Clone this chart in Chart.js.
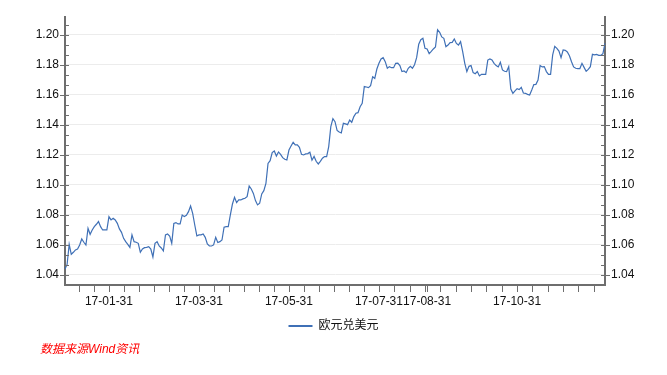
<!DOCTYPE html>
<html>
<head>
<meta charset="utf-8">
<script src="https://cdn.jsdelivr.net/npm/chart.js@4.4.0/dist/chart.umd.min.js"></script>
<style>
  body { margin: 0; background: #fff; }
  #wrap { position: relative; width: 667px; height: 375px; }
  #source {
    position: absolute; left: 40px; top: 339px;
    font: italic 12px "Liberation Sans", "Noto Sans CJK SC", sans-serif;
    color: #ff0000;
  }
</style>
</head>
<body>
<div id="wrap">
  <canvas id="chart" width="667" height="375"></canvas>
  <div id="source">数据来源Wind资讯</div>
</div>
<script>
const seriesName = "欧元兑美元";

// 欧元兑美元 日度收盘, 2017-01-02 起每个交易日一个点
const eurusd = [
  1.0440, 1.0470, 1.0604, 1.0538, 1.0551, 1.0567, 1.0573, 1.0600, 1.0640, 1.0618,
  1.0600, 1.0711, 1.0671, 1.0700, 1.0722, 1.0738, 1.0756, 1.0722, 1.0700, 1.0700,
  1.0700, 1.0789, 1.0767, 1.0778, 1.0767, 1.0744, 1.0707, 1.0684, 1.0644, 1.0622,
  1.0604, 1.0584, 1.0667, 1.0622, 1.0618, 1.0611, 1.0551, 1.0573, 1.0582, 1.0584,
  1.0589, 1.0573, 1.0520, 1.0611, 1.0622, 1.0593, 1.0580, 1.0560, 1.0667, 1.0673,
  1.0660, 1.0611, 1.0744, 1.0749, 1.0740, 1.0740, 1.0800, 1.0789, 1.0798, 1.0822,
  1.0860, 1.0811, 1.0733, 1.0660, 1.0667, 1.0667, 1.0673, 1.0651, 1.0607, 1.0593,
  1.0593, 1.0600, 1.0651, 1.0616, 1.0622, 1.0633, 1.0718, 1.0722, 1.0722, 1.0800,
  1.0873, 1.0918, 1.0882, 1.0900, 1.0900, 1.0907, 1.0911, 1.0922, 1.0993, 1.0973,
  1.0944, 1.0896, 1.0867, 1.0878, 1.0940, 1.0962, 1.1011, 1.1144, 1.1162, 1.1216,
  1.1227, 1.1193, 1.1220, 1.1204, 1.1182, 1.1171, 1.1167, 1.1233, 1.1260, 1.1284,
  1.1267, 1.1267, 1.1251, 1.1204, 1.1200, 1.1207, 1.1209, 1.1218, 1.1165, 1.1190,
  1.1158, 1.1140, 1.1158, 1.1178, 1.1189, 1.1189, 1.1256, 1.1389, 1.1442, 1.1422,
  1.1364, 1.1353, 1.1347, 1.1411, 1.1407, 1.1402, 1.1433, 1.1418, 1.1456, 1.1478,
  1.1482, 1.1522, 1.1544, 1.1656, 1.1653, 1.1649, 1.1662, 1.1722, 1.1711, 1.1773,
  1.1811, 1.1840, 1.1849, 1.1822, 1.1778, 1.1789, 1.1782, 1.1782, 1.1811, 1.1813,
  1.1796, 1.1756, 1.1760, 1.1749, 1.1778, 1.1791, 1.1778, 1.1802, 1.1849, 1.1938,
  1.1969, 1.1978, 1.1911, 1.1907, 1.1876, 1.1891, 1.1907, 1.1920, 1.2035, 1.2018,
  1.1987, 1.1978, 1.1922, 1.1933, 1.1949, 1.1951, 1.1973, 1.1944, 1.1933, 1.1956,
  1.1889, 1.1811, 1.1756, 1.1791, 1.1796, 1.1749, 1.1742, 1.1756, 1.1727, 1.1738,
  1.1738, 1.1738, 1.1833, 1.1840, 1.1833, 1.1811, 1.1796, 1.1787, 1.1818, 1.1767,
  1.1758, 1.1756, 1.1789, 1.1640, 1.1611, 1.1627, 1.1642, 1.1636, 1.1651, 1.1613,
  1.1611, 1.1604, 1.1600, 1.1633, 1.1669, 1.1671, 1.1700, 1.1796, 1.1787, 1.1789,
  1.1756, 1.1738, 1.1738, 1.1867, 1.1924, 1.1911, 1.1893, 1.1849, 1.1900, 1.1898,
  1.1887, 1.1862, 1.1822, 1.1787, 1.1778, 1.1776, 1.1776, 1.1811, 1.1784, 1.1758,
  1.1771, 1.1789, 1.1871, 1.1867, 1.1871, 1.1864, 1.1864, 1.1876, 1.1944
];

const yTicks = [1.04, 1.06, 1.08, 1.10, 1.12, 1.14, 1.16, 1.18, 1.20];
const yMin = 1.0333;
const yMax = 1.212;

const xTickLabels = ["17-01-31", "17-03-31", "17-05-31", "17-07-31", "17-08-31", "17-10-31"];
// 刻度线锚点 (每两个月), 之间再分 6 格
const xTickAnchors = ["17-01-31", "17-03-31", "17-05-31", "17-07-31", "17-09-29", "17-11-30"];
const holidays = ["17-12-25"];

// 交易日 (工作日) 标签
const dates = [];
for (let d = new Date(2017, 0, 2); dates.length < eurusd.length; d.setDate(d.getDate() + 1)) {
  const wd = d.getDay();
  if (wd === 0 || wd === 6) continue;
  const s = String(d.getFullYear()).slice(2) + "-" +
    String(d.getMonth() + 1).padStart(2, "0") + "-" +
    String(d.getDate()).padStart(2, "0");
  if (holidays.includes(s)) continue;
  dates.push(s);
}

const lineColor = "#3f70b6";
const axisColor = "#6e6e6e";
const gridColor = "#ececec";
const fontFamily = '"Liberation Sans", "Noto Sans CJK SC", sans-serif';

// 轴上的小刻度线
const axisTicks = {
  id: "axisTicks",
  afterDraw(chart) {
    const { ctx, chartArea: a, scales: { x, y } } = chart;
    ctx.save();
    ctx.strokeStyle = axisColor;
    ctx.lineWidth = 1;
    ctx.beginPath();

    const step = (yTicks[1] - yTicks[0]) / 3;
    for (let k = -1; k <= (yTicks.length - 1) * 3 + 1; k++) {
      const v = yTicks[0] + k * step;
      if (v < yMin || v > yMax) continue;
      const py = Math.round(y.getPixelForValue(v)) + 0.5;
      const major = k % 3 === 0;
      ctx.moveTo(major ? a.left - 5 : a.left, py);
      ctx.lineTo(a.left + 4, py);
      ctx.moveTo(a.right - 4, py);
      ctx.lineTo(major ? a.right + 5 : a.right, py);
    }

    const anchors = xTickAnchors.map(s => dates.indexOf(s));
    const xs = [];
    for (let i = 0; i < anchors.length - 1; i++) {
      const gap = (anchors[i + 1] - anchors[i]) / 6;
      for (let j = 0; j < 6; j++) xs.push(anchors[i] + j * gap);
    }
    const last = anchors[anchors.length - 1];
    const lastGap = (last - anchors[anchors.length - 2]) / 6;
    for (let v = last; v <= dates.length - 1; v += lastGap) xs.push(v);
    const firstGap = (anchors[1] - anchors[0]) / 6;
    for (let v = anchors[0] - firstGap; v > 0; v -= firstGap) xs.push(v);
    xTickLabels.forEach(s => xs.push(dates.indexOf(s)));

    xs.forEach(v => {
      const px = Math.round(x.getPixelForValue(v)) + 0.5;
      ctx.moveTo(px, a.bottom);
      ctx.lineTo(px, a.bottom + 7);
    });
    ctx.stroke();
    ctx.restore();
  }
};

const tickFont = { family: fontFamily, size: 12 };

new Chart(document.getElementById("chart"), {
  type: "line",
  data: {
    labels: dates,
    datasets: [{
      label: seriesName,
      data: eurusd,
      borderColor: lineColor,
      backgroundColor: lineColor,
      borderWidth: 1.2,
      pointRadius: 0,
      tension: 0,
      yAxisID: "y"
    }]
  },
  options: {
    responsive: false,
    devicePixelRatio: 1,
    animation: false,
    layout: { padding: { top: 17, bottom: 33, left: 0, right: 0 } },
    plugins: {
      tooltip: { enabled: false },
      legend: {
        position: "bottom",
        labels: {
          usePointStyle: true,
          pointStyle: "line",
          pointStyleWidth: 24,
          padding: 10,
          color: "#111",
          font: { family: fontFamily, size: 12 },
          generateLabels: chart =>
            Chart.defaults.plugins.legend.labels.generateLabels(chart)
              .map(l => ({ ...l, lineWidth: 2, pointStyle: "line" }))
        }
      }
    },
    scales: {
      x: {
        type: "category",
        offset: false,
        grid: { color: "transparent", drawTicks: false },
        border: { color: axisColor, width: 2 },
        ticks: {
          autoSkip: false,
          maxRotation: 0,
          padding: 9,
          color: "#111",
          font: tickFont,
          callback(v) {
            const s = this.getLabelForValue(v);
            return xTickLabels.includes(s) ? s : "";
          }
        },
        afterFit: s => { s.height = 25; }
      },
      y: {
        position: "left",
        min: yMin,
        max: yMax,
        afterBuildTicks: s => { s.ticks = yTicks.map(v => ({ value: v })); },
        grid: { color: gridColor, drawTicks: false },
        border: { color: axisColor, width: 2 },
        ticks: {
          padding: 6,
          color: "#111",
          font: tickFont,
          callback: v => v.toFixed(2)
        },
        afterFit: s => { s.width = 65; }
      },
      y2: {
        position: "right",
        min: yMin,
        max: yMax,
        afterBuildTicks: s => { s.ticks = yTicks.map(v => ({ value: v })); },
        grid: { drawOnChartArea: false, drawTicks: false },
        border: { color: axisColor, width: 2 },
        ticks: {
          padding: 6,
          color: "#111",
          font: tickFont,
          callback: v => v.toFixed(2)
        },
        afterFit: s => { s.width = 62; }
      }
    }
  },
  plugins: [axisTicks]
});
</script>
</body>
</html>
